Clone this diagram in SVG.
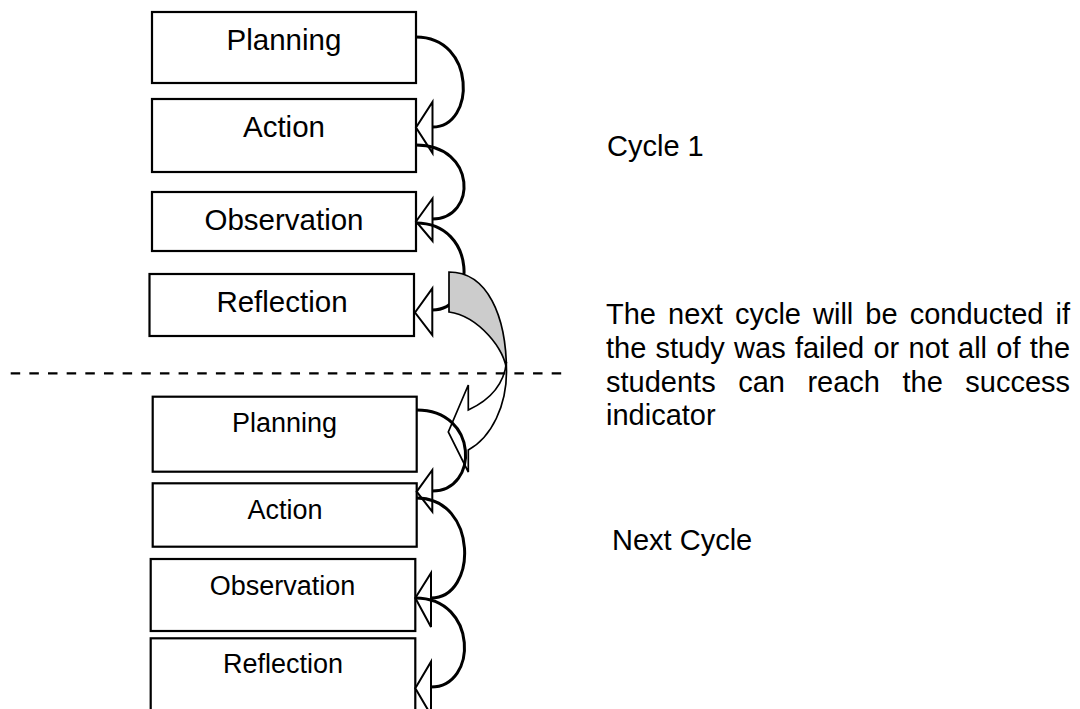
<svg xmlns="http://www.w3.org/2000/svg" width="1080" height="709" viewBox="0 0 1080 709">
<style>
.box{fill:#fff;stroke:#000;stroke-width:2.2}
.lbl{font-family:"Liberation Sans",Arial,sans-serif;fill:#000;text-anchor:middle}
.big{font-size:29.5px}
.small{font-size:27px}
.arc{fill:none;stroke:#000;stroke-width:3}
.head{fill:#fff;stroke:#000;stroke-width:2}
.note{font-family:"Liberation Sans",Arial,sans-serif;font-size:29px;fill:#000}
.loop{stroke:#000;stroke-width:1.7;stroke-linejoin:miter}
</style>
<rect width="1080" height="709" fill="#fff"/>

<g id="planning-1"><rect class="box" x="152" y="12" width="264" height="71"/><text class="lbl big" x="284" y="50">Planning</text></g>
<g id="action-1"><rect class="box" x="152" y="99" width="264" height="73"/><text class="lbl big" x="284" y="137">Action</text></g>
<g id="observation-1"><rect class="box" x="152" y="192" width="264" height="59"/><text class="lbl big" x="284" y="230">Observation</text></g>
<g id="reflection-1"><rect class="box" x="149.5" y="274" width="264.5" height="62"/><text class="lbl big" x="282" y="312">Reflection</text></g>

<g id="planning-2"><rect class="box" x="152.7" y="396.7" width="264" height="75"/><text class="lbl small" x="284.5" y="432">Planning</text></g>
<g id="action-2"><rect class="box" x="152.7" y="483.3" width="264" height="63.4"/><text class="lbl small" x="285" y="519">Action</text></g>
<g id="observation-2"><rect class="box" x="150.7" y="559" width="264.6" height="72"/><text class="lbl small" x="282.5" y="595">Observation</text></g>
<g id="reflection-2"><rect class="box" x="150.7" y="638.3" width="264.6" height="90"/><text class="lbl small" x="283" y="673">Reflection</text></g>

<g id="connectors">
<polygon class="head" points="416,127.5 432.5,102 432.5,153"/>
<polygon class="head" points="416,221.5 432.5,198.5 432.5,241"/>
<polygon class="head" points="415,312.5 432.3,288.3 432.3,335"/>
<polygon class="head" points="416.7,491.7 432.3,470 432.3,511.7"/>
<polygon class="head" points="415.3,598 431,573 431,627"/>
<polygon class="head" points="415.3,688.3 431,661.7 431,715"/>
<path class="arc" d="M416,37 C476,37 476,127 432.5,127"/>
<path class="arc" d="M416,145 C477,145 477,219 432.5,219"/>
<path class="arc" d="M416,223 C477,223 477,310 432.3,310"/>
<path class="arc" d="M416.7,410 C479,410 479,491 432.3,491"/>
<path class="arc" d="M416.7,498 C478,498 478,598 431,598"/>
<path class="arc" d="M415.3,598 C478,598 478,687 431,687"/>
</g>

<g id="loop-arrow">
<path class="loop" fill="#cccccc" d="M449,272 C487,272 506.5,315 506.5,372 C506.5,350 478,316 449,312 Z"/>
<path class="loop" fill="none" d="M506.5,372 C506.5,405 492,437 468.3,450 L468.3,472 L448.3,432 L468.3,385 L468.3,410 C490,400 504,385 506.5,362"/>
</g>

<line x1="10.7" y1="373.3" x2="562" y2="373.3" stroke="#000" stroke-width="2.2" stroke-dasharray="9.5 9.155"/>

<g id="notes">
<text class="note" x="607" y="156">Cycle 1</text>
<text class="note" x="606" y="324.3" word-spacing="4">The next cycle will be conducted if</text>
<text class="note" x="606" y="358" word-spacing="1.18">the study was failed or not all of the</text>
<text class="note" x="606" y="391.7" word-spacing="14.45">students can reach the success</text>
<text class="note" x="606" y="425.3">indicator</text>
<text class="note" x="612" y="550">Next Cycle</text>
</g>
</svg>
